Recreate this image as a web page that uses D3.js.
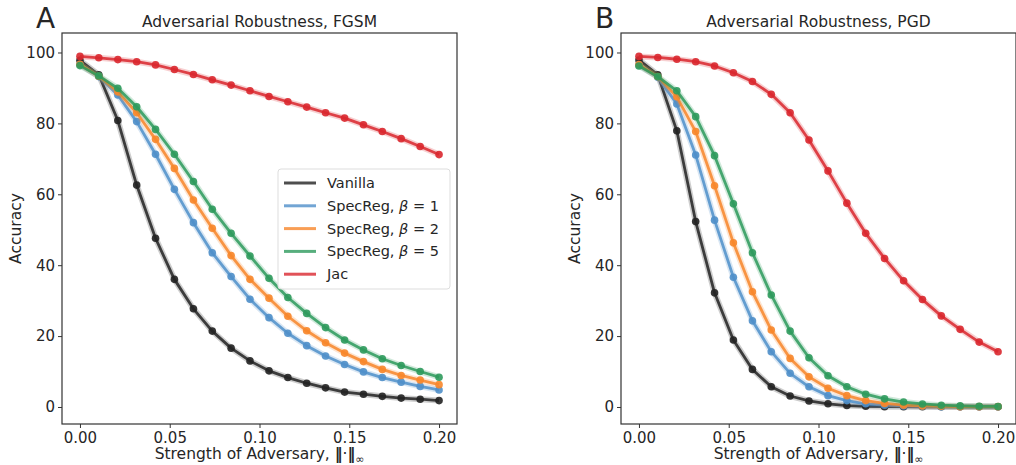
<!DOCTYPE html>
<html>
<head>
<meta charset="utf-8">
<script src="https://cdn.jsdelivr.net/npm/d3@7"></script>
<style>
body { margin: 0; background: #fff; }
svg text { font-family: "DejaVu Sans", sans-serif; fill: #262626; }
</style>
</head>
<body>
<script>
var w = 1016;
var h = 465;

// 20 evenly spaced attack strengths between 0 and 0.2
var epsilons = [0, 0.0105, 0.0211, 0.0316, 0.0421, 0.0526, 0.0632, 0.0737, 0.0842, 0.0947,
                0.1053, 0.1158, 0.1263, 0.1368, 0.1474, 0.1579, 0.1684, 0.1789, 0.1895, 0.2];
var xTicks = [0, 0.05, 0.1, 0.15, 0.2];
var yTicks = [0, 20, 40, 60, 80, 100];
var seriesNames = ["Vanilla", "SpecReg, ", "SpecReg, ", "SpecReg, ", "Jac"];
var betas = [null, "1", "2", "5", null];

// FGSM
var fgsmVanilla = [97.8, 93.7, 80.8, 62.6, 47.6, 36.0, 27.7, 21.4, 16.6, 13.0, 10.2, 8.3, 6.7, 5.4, 4.2, 3.6, 3.0, 2.5, 2.2, 1.8];
var fgsmSpec1 = [96.6, 93.2, 88.0, 80.5, 71.3, 61.4, 52.0, 43.5, 36.8, 30.4, 25.2, 20.8, 17.3, 14.4, 12.0, 9.9, 8.3, 7.0, 5.8, 4.8];
var fgsmSpec2 = [96.7, 93.3, 88.9, 83.0, 75.5, 67.3, 58.4, 50.4, 42.7, 36.0, 30.7, 25.6, 21.5, 18.1, 15.2, 12.8, 10.6, 8.9, 7.6, 6.3];
var fgsmSpec5 = [96.3, 93.4, 89.9, 84.7, 78.3, 71.3, 63.6, 55.8, 49.0, 42.6, 36.3, 30.9, 26.4, 22.4, 18.9, 16.1, 13.6, 11.7, 10.0, 8.4];
var fgsmJac = [98.9, 98.5, 98.0, 97.4, 96.5, 95.2, 93.8, 92.3, 90.8, 89.2, 87.6, 86.1, 84.6, 83.0, 81.5, 79.6, 77.7, 75.7, 73.5, 71.2];

// PGD
var pgdVanilla = [97.9, 93.7, 77.9, 52.3, 32.2, 18.9, 10.6, 5.7, 3.1, 1.7, 0.9, 0.4, 0.2, 0.1, 0.1, 0.05, 0.05, 0.05, 0.05, 0.05];
var pgdSpec1 = [96.5, 93.0, 85.5, 71.1, 52.7, 36.6, 24.3, 15.6, 9.5, 5.7, 3.2, 1.8, 0.9, 0.5, 0.3, 0.2, 0.1, 0.1, 0.05, 0.05];
var pgdSpec2 = [96.6, 93.2, 87.5, 77.7, 62.4, 46.3, 32.5, 21.7, 13.7, 8.5, 5.3, 3.2, 1.8, 1.0, 0.5, 0.3, 0.2, 0.1, 0.1, 0.1];
var pgdSpec5 = [96.2, 93.2, 89.2, 81.9, 70.9, 57.3, 43.5, 31.6, 21.4, 13.9, 8.8, 5.7, 3.6, 2.3, 1.4, 0.85, 0.5, 0.3, 0.2, 0.15];
var pgdJac = [98.9, 98.6, 98.1, 97.4, 96.2, 94.3, 91.8, 88.2, 83.0, 75.3, 66.6, 57.5, 49.0, 41.9, 35.6, 30.3, 25.7, 21.9, 18.3, 15.6];

var colors = ["#222222", "#4f8fc9", "#f7862a", "#2d9a5c", "#d9272e"];

var svg = d3.select("body").append("svg")
    .attr("width", w)
    .attr("height", h);

function drawPanel(left, letter, title, series, showLegend) {
    var right = left + 395;
    var top = 33, bottom = 424;

    var x = d3.scaleLinear().domain([-0.01, 0.21]).range([left, right]);
    var y = d3.scaleLinear().domain([-4.8, 105.5]).range([bottom, top]);

    var g = svg.append("g");

    // plain straight segments between points, like plt.plot
    var line = d3.line()
        .x(function(d, i) { return x(epsilons[i]); })
        .y(function(d) { return y(d); });

    series.forEach(function(vals, k) {
        // faint wide stroke stands in for the error band
        g.append("path")
            .attr("d", line(vals))
            .attr("fill", "none")
            .attr("stroke", colors[k])
            .attr("stroke-width", 6)
            .attr("stroke-linejoin", "round")
            .attr("stroke-opacity", 0.22);
        g.append("path")
            .attr("d", line(vals))
            .attr("fill", "none")
            .attr("stroke", colors[k])
            .attr("stroke-width", 2.8)
            .attr("stroke-linejoin", "round")
            .attr("stroke-opacity", 0.85);
        g.selectAll(null)
            .data(vals)
            .enter()
            .append("circle")
            .attr("cx", function(d, i) { return x(epsilons[i]); })
            .attr("cy", function(d) { return y(d); })
            .attr("r", 3.8)
            .attr("fill", colors[k])
            .attr("fill-opacity", 0.9);
    });

    // axes
    var xAxis = d3.axisBottom(x).tickValues(xTicks).tickFormat(d3.format(".2f")).tickSizeOuter(0).tickSize(4).tickPadding(4);
    var yAxis = d3.axisLeft(y).tickValues(yTicks).tickSizeOuter(0).tickSize(4).tickPadding(3);

    var gx = g.append("g").attr("transform", "translate(0," + bottom + ")").call(xAxis);
    var gy = g.append("g").attr("transform", "translate(" + left + ",0)").call(yAxis);
    [gx, gy].forEach(function(a) {
        a.select(".domain").remove();
        a.selectAll("line").attr("stroke", "#333");
        a.selectAll("text").style("font-size", "15px").attr("fill", "#262626");
    });

    g.append("rect")
        .attr("x", left).attr("y", top)
        .attr("width", right - left).attr("height", bottom - top)
        .attr("fill", "none")
        .attr("stroke", "#333")
        .attr("stroke-width", 1.2);

    g.append("text")
        .attr("x", (left + right) / 2)
        .attr("y", top - 6)
        .attr("text-anchor", "middle")
        .style("font-size", "15.5px")
        .text(title);

    g.append("text")
        .attr("x", left - 26)
        .attr("y", 28)
        .style("font-size", "28px")
        .text(letter);

    g.append("text")
        .attr("transform", "translate(" + (left - 41) + "," + ((top + bottom) / 2) + ") rotate(-90)")
        .attr("text-anchor", "middle")
        .style("font-size", "15.5px")
        .text("Accuracy");

    var xl = g.append("text")
        .attr("x", (left + right) / 2)
        .attr("y", 459)
        .attr("text-anchor", "middle")
        .style("font-size", "15.5px");
    xl.append("tspan").text("Strength of Adversary, ");
    xl.append("tspan").style("font-weight", "bold").text("‖");
    xl.append("tspan").text("·");
    xl.append("tspan").style("font-weight", "bold").text("‖");
    xl.append("tspan").attr("dy", 4).style("font-size", "11px").text("∞");

    if (showLegend) {
        var lx = 278, ly = 169;
        var lg = g.append("g");
        lg.append("rect")
            .attr("x", lx).attr("y", ly)
            .attr("width", 172).attr("height", 120)
            .attr("rx", 3)
            .attr("fill", "#fff")
            .attr("fill-opacity", 0.85)
            .attr("stroke", "#ddd");
        seriesNames.forEach(function(name, k) {
            var yy = ly + 14 + k * 22.8;
            lg.append("line")
                .attr("x1", lx + 6).attr("x2", lx + 38)
                .attr("y1", yy).attr("y2", yy)
                .attr("stroke", colors[k])
                .attr("stroke-opacity", 0.8)
                .attr("stroke-width", 3);
            var t = lg.append("text")
                .attr("x", lx + 49)
                .attr("y", yy + 5)
                .style("font-size", "14.5px");
            t.append("tspan").text(name);
            if (betas[k]) {
                t.append("tspan").style("font-style", "italic").text("β");
                t.append("tspan").text(" = " + betas[k]);
            }
        });
    }
}

drawPanel(62, "A", "Adversarial Robustness, FGSM",
    [fgsmVanilla, fgsmSpec1, fgsmSpec2, fgsmSpec5, fgsmJac], true);
drawPanel(621, "B", "Adversarial Robustness, PGD",
    [pgdVanilla, pgdSpec1, pgdSpec2, pgdSpec5, pgdJac], false);
</script>
</body>
</html>
